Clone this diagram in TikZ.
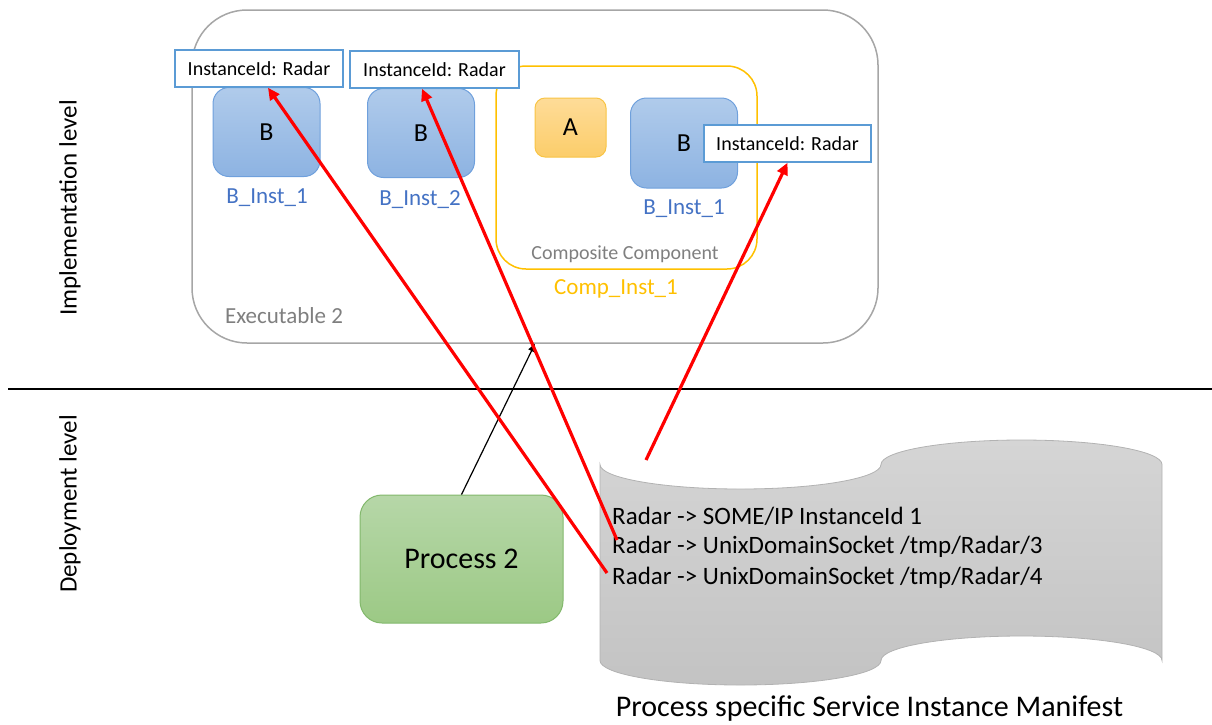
\documentclass[tikz,border=0pt]{standalone}
\usepackage{fontspec}
\setmainfont{Carlito}
\usetikzlibrary{arrows.meta}
\definecolor{btop}{HTML}{B0CBEB}
\definecolor{bbot}{HTML}{8DB3E2}
\definecolor{bline}{HTML}{6FA0DC}
\definecolor{atop}{HTML}{FEDC98}
\definecolor{abot}{HTML}{FCCD6A}
\definecolor{aline}{HTML}{F8C444}
\definecolor{ptop}{HTML}{B6D7A8}
\definecolor{pbot}{HTML}{9CC985}
\definecolor{pline}{HTML}{82B86C}
\definecolor{idline}{HTML}{5B9BD5}
\definecolor{exeline}{HTML}{A6A6A6}
\definecolor{compline}{HTML}{FFC000}
\definecolor{instblue}{HTML}{4472C4}
\definecolor{greytext}{HTML}{7F7F7F}
\tikzset{
fsz/.style={font=\fontsize{#1}{#1}\selectfont},
exebox/.style={draw=exeline,line width=1.5pt,rounded corners=55pt},
compbox/.style={draw=compline,line width=1.5pt,rounded corners=30pt},
bbox/.style={draw=bline,line width=1pt,top color=btop,bottom color=bbot,rounded corners=16pt,minimum width=107,minimum height=89,fsz=26},
abox/.style={draw=aline,line width=1pt,top color=atop,bottom color=abot,rounded corners=10pt,minimum width=71,minimum height=59,fsz=26},
idbox/.style={draw=idline,line width=1.5pt,fill=white,minimum width=168,minimum height=37,fsz=20},
instlabel/.style={text=instblue,fsz=23},
manline/.style={anchor=west,inner sep=0pt,fsz=25},
redarrow/.style={draw=red,line width=3.2pt,-{Triangle[length=12pt,width=11pt]}},
}
\begin{document}
\begin{tikzpicture}[x=1pt,y=-1pt]
\useasboundingbox (0,0) rectangle (1212,724);
% implementation level
\node[exebox,minimum width=686,minimum height=333] (exe) at (535,176.5) {};
\node[text=greytext,fsz=23] (exelabel) at (284,316) {Executable 2};
\node[compbox,minimum width=261,minimum height=203] (comp) at (626.5,167.5) {};
\node[text=greytext,fsz=20] (complabel) at (625,254) {Composite Component};
\node[text=compline,fsz=23] (compinst) at (616,289) {Comp\_Inst\_1};
\node[bbox] (b1) at (266.5,132) {B};
\node[bbox] (b2) at (421,133) {B};
\node[abox] (a) at (570.5,127.5) {A};
\node[bbox,minimum height=90] (b3) at (684,143) {B};
\node[instlabel] (b1lab) at (267,198) {B\_Inst\_1};
\node[instlabel] (b2lab) at (420,200) {B\_Inst\_2};
\node[instlabel] (b3lab) at (684,209) {B\_Inst\_1};
\node[idbox] (id1) at (259,68.5) {InstanceId: Radar};
\node[idbox,minimum width=169] (id2) at (434.5,69.5) {InstanceId: Radar};
\node[idbox,minimum width=167] (id3) at (787.5,143.5) {InstanceId: Radar};
\node[rotate=90,fsz=25] (impl) at (70,208) {Implementation level};
% level border
\draw[line width=2.5pt] (8,389) -- (1212,389);
% deployment level
\node[rotate=90,fsz=25] (depl) at (70,504) {Deployment level};
\node[draw=pline,line width=1pt,top color=ptop,bottom color=pbot,rounded corners=22pt,minimum width=203,minimum height=128,fsz=30] (proc) at (461.5,559) {Process 2};
\draw[draw=gray!60,line width=0.8pt,top color=gray!33,bottom color=gray!47] (600,464.5)
  arc[start angle=180,end angle=0,x radius=140.5,y radius=24.5]
  arc[start angle=180,end angle=360,x radius=140.5,y radius=24.5] -- (1162,660.5)
  arc[start angle=0,end angle=-180,x radius=140.5,y radius=24.5]
  arc[start angle=0,end angle=180,x radius=140.5,y radius=24.5] -- cycle;
\node[manline] (l1) at (612,516) {Radar -> SOME/IP InstanceId 1};
\node[manline] (l2) at (612,547) {Radar -> UnixDomainSocket /tmp/Radar/3};
\node[manline] (l3) at (612,578) {Radar -> UnixDomainSocket /tmp/Radar/4};
\node[fsz=30] (manlabel) at (869.5,709) {Process specific Service Instance Manifest};
\coordinate (m3) at (646,460);
% connectors
\draw[line width=1.2pt,-{Triangle[length=8pt,width=7pt]}] (proc.north) -- (exe.south);
\draw[redarrow] ([xshift=-5,yshift=5]l3.west) -- ([xshift=9]id1.south);
\draw[redarrow] ([xshift=5,yshift=7]l2.west) -- ([xshift=-12.5]id2.south);
\draw[redarrow] (m3) -- (id3.south);
\end{tikzpicture}
\end{document}
